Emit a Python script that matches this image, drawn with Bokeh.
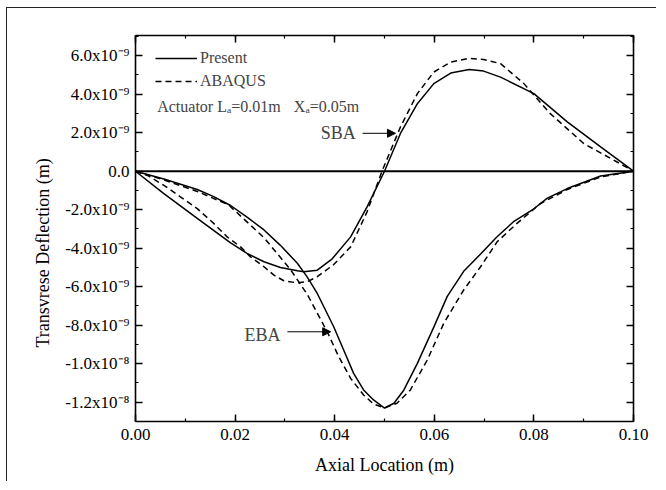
from bokeh.plotting import figure
from bokeh.models import (Range1d, LinearAxis, FixedTicker, Span, Label, Arrow,
                          NormalHead, Legend, LegendItem, Title)
from bokeh.embed import file_html
from bokeh.resources import INLINE

FONT = "Liberation Serif"

# ---------------- data ----------------
# SBA, present theory (solid)
sba_present_x = [0.0, 0.0057, 0.0124, 0.0191, 0.0224, 0.0258, 0.0291, 0.0325, 0.0338,
                 0.0365, 0.0395, 0.0432, 0.0465, 0.0500, 0.0532, 0.0566, 0.0599, 0.0633,
                 0.0670, 0.0699, 0.0733, 0.0800, 0.0867, 0.0934, 0.1000]
sba_present_y = [0.0, -1.16e-9, -2.45e-9, -3.72e-9, -4.27e-9, -4.70e-9, -5.00e-9, -5.17e-9,
                 -5.22e-9, -5.14e-9, -4.55e-9, -3.41e-9, -1.85e-9, 0.0, 1.96e-9, 3.51e-9,
                 4.55e-9, 5.10e-9, 5.28e-9, 5.20e-9, 4.89e-9, 4.03e-9, 2.56e-9, 1.26e-9, 0.0]

# SBA, ABAQUS (dashed)
sba_abaqus_x = [0.0, 0.0024, 0.0057, 0.0090, 0.0124, 0.0157, 0.0184, 0.0211, 0.0231, 0.0258,
                0.0278, 0.0298, 0.0325, 0.0345, 0.0365, 0.0398, 0.0432, 0.0465, 0.0495,
                0.0532, 0.0566, 0.0599, 0.0633, 0.0670, 0.0699, 0.0733, 0.0780, 0.0833,
                0.0900, 0.0967, 0.1000]
sba_abaqus_y = [0.0, -0.22e-9, -0.73e-9, -1.33e-9, -1.94e-9, -2.71e-9, -3.41e-9, -3.93e-9,
                -4.45e-9, -4.96e-9, -5.40e-9, -5.69e-9, -5.80e-9, -5.74e-9, -5.48e-9,
                -4.85e-9, -3.93e-9, -2.11e-9, 0.0, 2.30e-9, 4.03e-9, 5.15e-9, 5.67e-9,
                5.86e-9, 5.80e-9, 5.59e-9, 4.55e-9, 2.99e-9, 1.44e-9, 0.48e-9, 0.0]

# EBA, present theory (solid)
eba_present_x = [0.0, 0.0057, 0.0124, 0.0157, 0.0191, 0.0224, 0.0258, 0.0291, 0.0325, 0.0345,
                 0.0365, 0.0398, 0.0418, 0.0438, 0.0458, 0.0478, 0.0500, 0.0519, 0.0539,
                 0.0566, 0.0599, 0.0626, 0.0659, 0.0693, 0.0726, 0.0760, 0.0800, 0.0827,
                 0.0867, 0.0934, 0.1000]
eba_present_y = [0.0, -0.40e-9, -0.95e-9, -1.32e-9, -1.78e-9, -2.38e-9, -3.05e-9, -3.85e-9,
                 -4.78e-9, -5.50e-9, -6.35e-9, -8.08e-9, -9.29e-9, -10.50e-9, -11.36e-9,
                 -11.88e-9, -12.30e-9, -12.05e-9, -11.36e-9, -9.98e-9, -8.10e-9, -6.50e-9,
                 -5.20e-9, -4.30e-9, -3.40e-9, -2.60e-9, -1.95e-9, -1.40e-9, -0.90e-9,
                 -0.25e-9, 0.0]

# EBA, ABAQUS (dashed)
eba_abaqus_x = [0.0, 0.0057, 0.0124, 0.0187, 0.0258, 0.0311, 0.0345, 0.0385, 0.0408, 0.0432,
                0.0458, 0.0478, 0.0500, 0.0525, 0.0552, 0.0586, 0.0619, 0.0659, 0.0693,
                0.0726, 0.0766, 0.0813, 0.0867, 0.0934, 0.1000]
eba_abaqus_y = [0.0, -0.45e-9, -1.05e-9, -1.75e-9, -3.45e-9, -5.10e-9, -6.40e-9, -8.34e-9,
                -9.63e-9, -10.76e-9, -11.62e-9, -12.09e-9, -12.30e-9, -12.05e-9, -11.36e-9,
                -9.80e-9, -7.90e-9, -6.17e-9, -4.96e-9, -3.67e-9, -2.71e-9, -1.68e-9,
                -0.95e-9, -0.30e-9, 0.0]

# ticks
x_ticks = [0.0, 0.02, 0.04, 0.06, 0.08, 0.10]
x_tick_labels = ["0.00", "0.02", "0.04", "0.06", "0.08", "0.10"]
x_minor_ticks = [0.0, 0.01, 0.02, 0.03, 0.04, 0.05, 0.06, 0.07, 0.08, 0.09, 0.10]

y_ticks = [-1.2e-8, -1.0e-8, -8.0e-9, -6.0e-9, -4.0e-9, -2.0e-9, 0.0, 2.0e-9, 4.0e-9, 6.0e-9]
y_tick_labels = ["-1.2x10\u207b\u2078", "-1.0x10\u207b\u2078", "-8.0x10\u207b\u2079",
                 "-6.0x10\u207b\u2079", "-4.0x10\u207b\u2079", "-2.0x10\u207b\u2079", "0.0",
                 "2.0x10\u207b\u2079", "4.0x10\u207b\u2079", "6.0x10\u207b\u2079"]
y_minor_ticks = [-1.3e-8, -1.2e-8, -1.1e-8, -1.0e-8, -9e-9, -8e-9, -7e-9, -6e-9, -5e-9,
                 -4e-9, -3e-9, -2e-9, -1e-9, 0.0, 1e-9, 2e-9, 3e-9, 4e-9, 5e-9, 6e-9, 7e-9]

# ---------------- figure ----------------
p = figure(width=650, height=474, output_backend="svg", toolbar_location=None,
           x_range=Range1d(0.0, 0.1), y_range=Range1d(-1.3e-8, 7.05e-9),
           min_border_left=128, min_border_right=24, min_border_top=27, min_border_bottom=61,
           x_axis_label="Axial Location (m)")
p.grid.visible = False
p.outline_line_color = None
p.background_fill_color = "white"
p.border_fill_color = "white"
p.styles = {"border-left": "1px solid #222", "border-top": "1px solid #222",
            "margin-left": "6px", "margin-top": "7px"}

xt = FixedTicker(ticks=x_ticks, minor_ticks=x_minor_ticks)
yt = FixedTicker(ticks=y_ticks, minor_ticks=y_minor_ticks)


def style_axis(ax, labels=True):
    ax.axis_line_width = 1.6
    ax.axis_line_color = "black"
    ax.major_tick_in = 7
    ax.major_tick_out = 0
    ax.minor_tick_in = 3
    ax.minor_tick_out = 0
    ax.major_tick_line_width = 1.5
    ax.minor_tick_line_width = 1.2
    ax.major_tick_line_color = "black"
    ax.minor_tick_line_color = "black"
    ax.major_label_text_font = FONT
    ax.major_label_text_color = "black"
    if not labels:
        ax.major_label_text_color = None
        ax.major_label_text_font_size = "1px"
        ax.major_label_standoff = 0


xa = p.xaxis[0]
xa.ticker = xt
xa.major_label_overrides = dict(zip(x_ticks, x_tick_labels))
style_axis(xa)
xa.major_label_text_font_size = "17px"
xa.major_label_standoff = 7
xa.axis_label_text_font = FONT
xa.axis_label_text_font_size = "18px"
xa.axis_label_text_font_style = "normal"
xa.axis_label_text_color = "black"
xa.axis_label_standoff = 12

ya = p.yaxis[0]
ya.ticker = yt
ya.major_label_overrides = dict(zip(y_ticks, y_tick_labels))
style_axis(ya)
ya.major_label_text_font_size = "17px"
ya.major_label_standoff = 6

top = LinearAxis(ticker=xt)
style_axis(top, labels=False)
p.add_layout(top, "above")
right = LinearAxis(ticker=yt)
style_axis(right, labels=False)
p.add_layout(right, "right")

# y-axis title (as a left-side title so that it can sit below the frame centre)
p.add_layout(Title(text="Transvrese Deflection (m)", text_font=FONT, text_font_size="18px",
                   text_font_style="normal", text_color="black", align="left", offset=74,
                   standoff=20), "left")

# zero line
p.add_layout(Span(location=0.0, dimension="width", line_color="black", line_width=2.2))

# curves
r_sp = p.line(sba_present_x, sba_present_y, line_color="black", line_width=1.5)
r_sa = p.line(sba_abaqus_x, sba_abaqus_y, line_color="black", line_width=1.5, line_dash="6 4")
p.line(eba_present_x, eba_present_y, line_color="black", line_width=1.5)
p.line(eba_abaqus_x, eba_abaqus_y, line_color="black", line_width=1.5, line_dash="6 4")

legend = Legend(items=[LegendItem(label="Present", renderers=[r_sp]),
                       LegendItem(label="ABAQUS", renderers=[r_sa])],
                location=(20, 330), margin=0, padding=0, spacing=3,
                glyph_width=42, glyph_height=20, label_height=20, label_standoff=3,
                label_text_font=FONT, label_text_font_size="16px",
                border_line_color=None, background_fill_alpha=0)
p.add_layout(legend)

# texts
p.add_layout(Label(x=0.00436, y=3.37e-9, text="Actuator L\u2090=0.01m", text_font=FONT,
                   text_font_size="16px", text_baseline="middle", text_align="left"))
p.add_layout(Label(x=0.0318, y=3.37e-9, text="X\u2090=0.05m", text_font=FONT,
                   text_font_size="16px", text_baseline="middle", text_align="left"))

p.add_layout(Label(x=0.0372, y=1.97e-9, text="SBA", text_font=FONT, text_font_size="18px",
                   text_baseline="middle", text_align="left"))
p.add_layout(Arrow(x_start=0.0456, y_start=1.97e-9, x_end=0.0522, y_end=1.97e-9,
                   line_width=1, line_color="black",
                   end=NormalHead(size=8, fill_color="black", line_color="black")))

p.add_layout(Label(x=0.0219, y=-8.5e-9, text="EBA", text_font=FONT, text_font_size="18px",
                   text_baseline="middle", text_align="left"))
p.add_layout(Arrow(x_start=0.0305, y_start=-8.34e-9, x_end=0.0392, y_end=-8.34e-9,
                   line_width=1, line_color="black",
                   end=NormalHead(size=8, fill_color="black", line_color="black")))

open("out.html", "w").write(file_html(p, INLINE))
